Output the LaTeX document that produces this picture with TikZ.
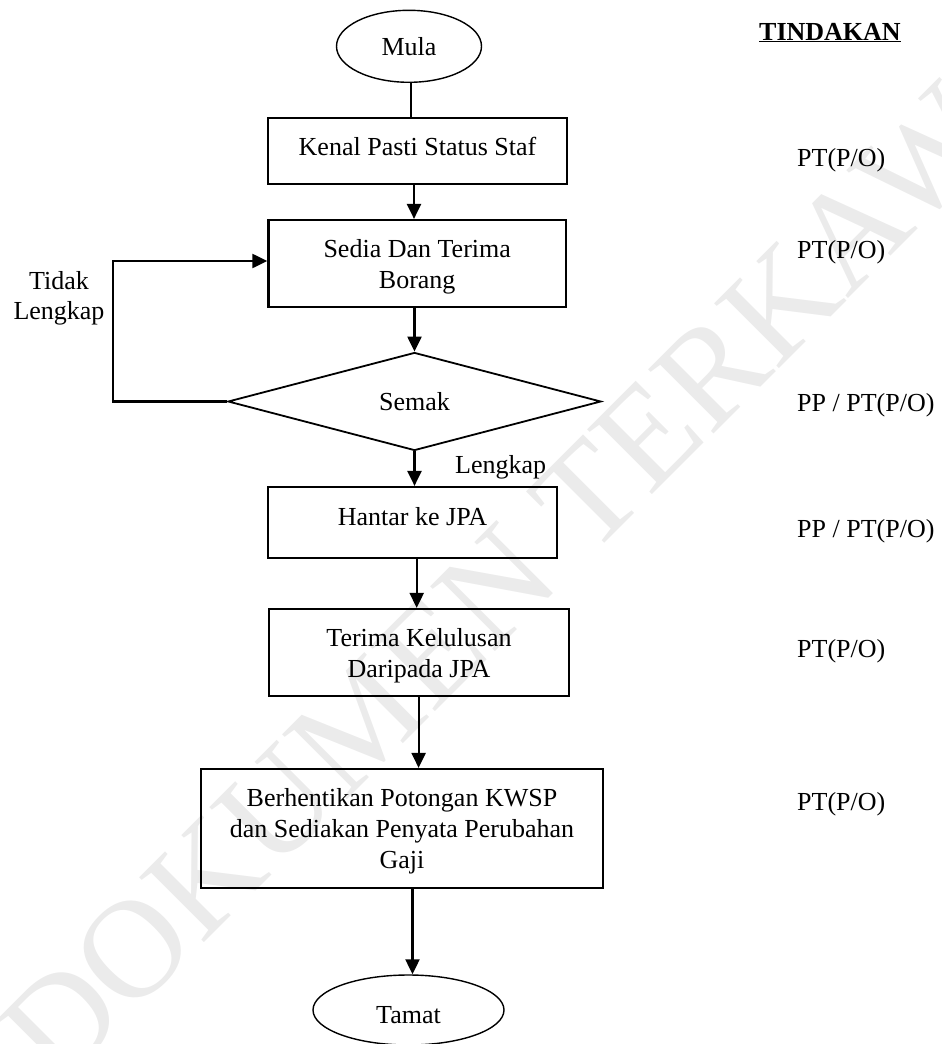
\documentclass[tikz,border=0pt]{standalone}
\usepackage{fontspec}
\setmainfont{Liberation Serif}
\usetikzlibrary{shapes.geometric,arrows.meta}
\begin{document}
\begin{tikzpicture}[x=1pt,y=-1pt,
  every node/.style={font=\fontsize{26}{31}\selectfont},
  box/.style={draw,rectangle,line width=2.2pt,inner sep=0pt,align=center},
  term/.style={draw,ellipse,line width=1.4pt,inner sep=0pt},
  dec/.style={draw,diamond,aspect=3.8,line width=1.8pt,inner sep=0pt},
  conn/.style={line width=2.2pt},
  arr/.style={conn,-{Triangle[length=15pt,width=14pt]}},
  act/.style={anchor=base west,inner sep=0pt},
  wmark/.style={text=black!8,font=\fontsize{140}{140}\selectfont,inner sep=0pt}
]
\useasboundingbox (0,0) rectangle (942,1044);
\clip (0,0) rectangle (942,1044);
% watermark
\node[wmark,rotate=45] (wm) at (560,523) {DOKUMEN TERKAWAL};

% flow nodes
\node[term,minimum width=145pt,minimum height=72pt] (mula) at (409,46.3) {Mula};
\node[box,minimum width=299pt,minimum height=66pt,text height=18pt,text depth=9pt] (kenal) at (417.5,151) {Kenal Pasti Status Staf};
\node[box,minimum width=297.5pt,minimum height=87pt,text depth=0pt] (sedia) at (417.2,263.5) {Sedia Dan Terima\\Borang};
\node[dec,minimum width=373pt,minimum height=98pt] (semak) at (414.5,401.5) {Semak};
\node[box,minimum width=289pt,minimum height=71pt,text height=18pt,text depth=12pt] (hantar) at (412.5,522.5) {Hantar ke JPA};
\node[box,minimum width=300pt,minimum height=87pt,text depth=0pt] (terima) at (419,652.5) {Terima Kelulusan\\Daripada JPA};
\node[box,minimum width=402pt,minimum height=119pt,text depth=0pt] (berh) at (402,828.5) {Berhentikan Potongan KWSP\\dan Sediakan Penyata Perubahan\\Gaji};
\node[term,minimum width=191pt,minimum height=70pt,text height=27pt,text depth=0pt] (tamat) at (408.5,1010) {Tamat};

% labels
\node[align=center,inner sep=0pt,font=\fontsize{26}{30}\selectfont] (tidak) at (59,298) {Tidak\\Lengkap};
\node[act] (lengkap) at (455,473) {Lengkap};

% action column
\node[act,font=\fontsize{26}{31}\selectfont\bfseries] (tindakan) at (759,40) {\underline{TINDAKAN}};
\node[act] (a1) at (797,166.5) {PT(P/O)};
\node[act] (a2) at (797,258) {PT(P/O)};
\node[act] (a3) at (797,411) {PP / PT(P/O)};
\node[act] (a4) at (797,537) {PP / PT(P/O)};
\node[act] (a5) at (797,657) {PT(P/O)};
\node[act] (a6) at (797,810) {PT(P/O)};

% x positions of the vertical connectors
\coordinate (c1) at (411,0);
\coordinate (c2) at (414,0);
\coordinate (c3) at (414.5,0);
\coordinate (c4) at (416.7,0);
\coordinate (c5) at (418.6,0);
\coordinate (c6) at (412.5,0);
\coordinate (loopx) at (113,0);

% connectors
\draw[conn] (mula.south -| c1) -- (kenal.north -| c1);
\draw[arr] (kenal.south -| c2) -- (sedia.north -| c2);
\draw[arr] (sedia.south -| c3) -- (semak.north);
\draw[arr] (semak.south) -- (hantar.north -| c3);
\draw[arr] (hantar.south -| c4) -- (terima.north -| c4);
\draw[arr] (terima.south -| c5) -- (berh.north -| c5);
\draw[arr] (berh.south -| c6) -- (tamat.north -| c6);
\draw[arr] (semak.west) -- (semak.west -| loopx) |- ([yshift=2.5pt]sedia.west);
\end{tikzpicture}
\end{document}
